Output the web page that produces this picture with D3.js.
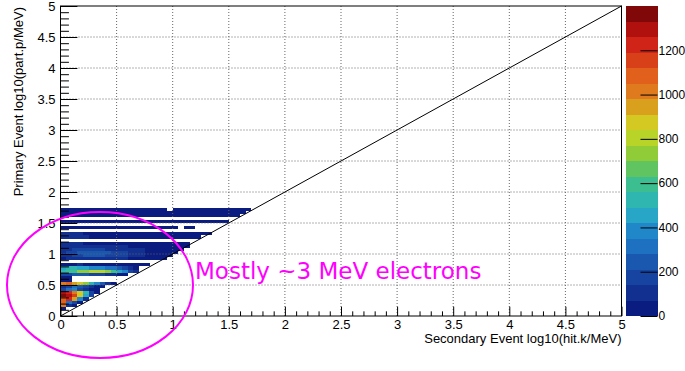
<!DOCTYPE html>
<html><head><meta charset="utf-8">
<script src="https://cdn.jsdelivr.net/npm/d3@7"></script>
<style>
html,body{margin:0;padding:0;background:#fff;}
svg{display:block;font-family:"Liberation Sans",Arial,Helvetica,sans-serif;}
</style></head>
<body><svg id="c" width="685" height="371"></svg>
<script>
// ---- data ----
const binWidth = 0.05;
// y-bin index (bin j covers [0.05j, 0.05j+0.05])
const rowIndex = [34,33,32,30,28,26,25,23,22,21,20,19,18,16,15,14,13,12,11,10,9,8,7,6,5,4,3,2];
// counts per x-bin starting at x=0 for each row above
const rowCounts = [
  [40,45,50,42,38,35,40,36,30,28,32,30,26,25,28,24,22,20,18,0,16,18,15,14,12,12,10,9,8,8,6,5,4,3],
  [55,60,58,50,48,45,44,40,38,35,36,33,30,30,28,26,25,24,22,20,20,18,17,15,14,13,12,10,9,8,7,6,4],
  [62,65,60,55,52,50,48,45,42,40,38,36,34,32,30,28,27,25,24,22,21,20,18,16,15,14,12,11,10,8,6,4],
  [50,55,52,48,45,42,40,38,35,33,31,30,28,26,25,23,22,20,19,18,16,15,14,12,11,10,8,7,5,3],
  [60,65,62,58,55,50,48,45,42,40,38,35,32,30,28,26,24,22,20,18,15,0,8,6],
  [80,85,75,70,65,60,55,52,50,48,45,42,40,38,35,32,30,28,26,24,22,20,18,15,12,10,6],
  [75,90,85,78,70,65,60,55,52,50,46,44,40,38,36,33,30,28,25,22,20,18,15,12,8],
  [70,80,75,72,68,64,60,56,52,50,48,45,42,40,36,33,30,28,25,22,18,14,10],
  [90,110,120,110,105,100,95,90,85,80,75,70,65,60,55,50,45,40,35,30,25,18,10],
  [100,130,150,160,165,160,150,140,130,120,110,100,90,80,70,60,52,45,38,30,22,12],
  [110,150,190,220,240,250,235,220,210,200,180,150,120,100,80,65,50,40,30,20,10],
  [90,130,170,200,215,230,220,210,200,190,170,140,110,90,70,55,40,30,20,10],
  [60,80,100,110,115,110,105,100,95,90,80,70,60,50,40,32,25,18,8],
  [40,55,65,70,68,62,55,50,45,40,35,30,25,18,12,6],
  [450,520,500,460,430,400,380,350,320,280,230,180,120,60],
  [520,560,620,700,760,800,820,780,700,600,480,350,200,80],
  [150,200,220,230,220,200,180,150,120,90,60,30],
  [40,20],
  [50,30],
  [1000,1100,950,850,700,500,350,250,120,40],
  [80,200,300,250,150,100,60,30],
  [150,280,350,200,100,40,20],
  [1300,1250,1000,880,500,200,60],
  [1350,1280,1180,900,450,150],
  [1100,1200,950,400,100],
  [1050,300,150,40],
  [1000,80,30],
  [60]
];
const axisTicks = [0,0.5,1,1.5,2,2.5,3,3.5,4,4.5,5];
const zTicks = [0,200,400,600,800,1000,1200];
const zMax = 1400;
const paletteColors = ["#0a1c80","#123090","#1644a0","#1a58b0","#1e70c0","#2088c8","#28a6c8","#30b6b0","#3cbe90","#60c460",
                       "#90cc38","#b8d428","#d4c822","#d8a01c","#e07a1e","#e0601c","#d8401a","#d02418","#b0100e","#800808"];
const xTitle = "Secondary Event log10(hit.k/MeV)";
const yTitle = "Primary Event log10(part.p/MeV)";
const note = "Mostly ~3 MeV electrons";

// ---- drawing ----
const svg = d3.select("#c");
const L = 60.5, R = 621.5, T = 6, B = 316;
const x = d3.scaleLinear([0,5],[L,R]);
const y = d3.scaleLinear([0,5],[B,T]);
const col = d3.scaleQuantize([0,zMax], paletteColors);

svg.append("rect").attr("width",685).attr("height",371).attr("fill","#fff");

const cells = [];
rowIndex.forEach((j,r)=>{
  rowCounts[r].forEach((v,i)=>{ if(v>0) cells.push({i,j,v}); });
});
svg.append("g").selectAll("rect").data(cells).join("rect")
  .attr("x",d=>x(d.i*binWidth))
  .attr("y",d=>y((d.j+1)*binWidth))
  .attr("width",d=>x((d.i+1)*binWidth)-x(d.i*binWidth))
  .attr("height",d=>y(d.j*binWidth)-y((d.j+1)*binWidth))
  .attr("fill",d=>col(Math.min(d.v,zMax-1)))
  .attr("shape-rendering","crispEdges");

// grid
const grid = svg.append("g").attr("stroke","#666").attr("stroke-width",1).attr("stroke-dasharray","1,2");
axisTicks.slice(1,-1).forEach(t=>{
  grid.append("line").attr("x1",x(t)).attr("x2",x(t)).attr("y1",T).attr("y2",B);
  grid.append("line").attr("x1",L).attr("x2",R).attr("y1",y(t)).attr("y2",y(t));
});

// diagonal
svg.append("line").attr("x1",x(0)).attr("y1",y(0)).attr("x2",x(5)).attr("y2",y(5))
  .attr("stroke","#000").attr("stroke-width",1);

// axes
const minorTicks = d3.range(0,51).map(k=>k/10).filter(v=>Math.abs(v*2-Math.round(v*2))>1e-6);
const fmt = v=>String(+v.toFixed(1));
const xMajor = d3.axisBottom(x).tickValues(axisTicks).tickSize(-9.3).tickPadding(4).tickFormat(fmt);
const xMinor = d3.axisBottom(x).tickValues(minorTicks).tickSize(-4.65).tickFormat("");
const yMajor = d3.axisLeft(y).tickValues(axisTicks).tickSize(-16.9).tickPadding(5).tickFormat(fmt);
const yMinor = d3.axisLeft(y).tickValues(minorTicks).tickSize(-8.45).tickFormat("");
function style(g, fs){ g.select(".domain").remove(); g.selectAll("text").attr("font-size",fs||13).attr("fill","#000").attr("font-family","Liberation Sans, Arial, sans-serif"); g.selectAll("line").attr("stroke","#000"); }
svg.append("g").attr("transform",`translate(0,${B})`).call(xMajor).call(style);
svg.append("g").attr("transform",`translate(0,${B})`).call(xMinor).call(style);
svg.append("g").attr("transform",`translate(${L},0)`).call(yMajor).call(style);
svg.append("g").attr("transform",`translate(${L},0)`).call(yMinor).call(style);

// frame
svg.append("rect").attr("x",L).attr("y",T).attr("width",R-L).attr("height",B-T)
  .attr("fill","none").attr("stroke","#000").attr("stroke-width",1);

// titles
svg.append("text").attr("x",R).attr("y",343).attr("text-anchor","end").attr("font-size",13).text(xTitle);
svg.append("text").attr("transform","translate(23,7) rotate(-90)").attr("text-anchor","end").attr("font-size",13).text(yTitle);

// color bar
const zs = d3.scaleLinear([0,zMax],[B,T]);
const CX0 = 625.5, CX1 = 657.5;
const bandW = zMax/paletteColors.length;
svg.append("g").selectAll("rect").data(paletteColors).join("rect")
  .attr("x",CX0).attr("width",CX1-CX0)
  .attr("y",(c,k)=>zs((k+1)*bandW)).attr("height",(c,k)=>zs(k*bandW)-zs((k+1)*bandW))
  .attr("fill",c=>c).attr("shape-rendering","crispEdges");
const zAxis = d3.axisRight(zs).tickValues(zTicks).tickSize(-17).tickPadding(1).tickFormat(d3.format("d"));
svg.append("g").attr("transform",`translate(${CX1},0)`).call(zAxis).call(g=>style(g,12));

// annotation
svg.append("ellipse").attr("cx",100).attr("cy",285).attr("rx",93).attr("ry",73)
  .attr("fill","none").attr("stroke","#ff00ff").attr("stroke-width",2);
svg.append("text").attr("x",195).attr("y",279).attr("font-size",23)
  .attr("font-family","DejaVu Sans, sans-serif").attr("fill","#ff00ff").text(note);
</script></body></html>
